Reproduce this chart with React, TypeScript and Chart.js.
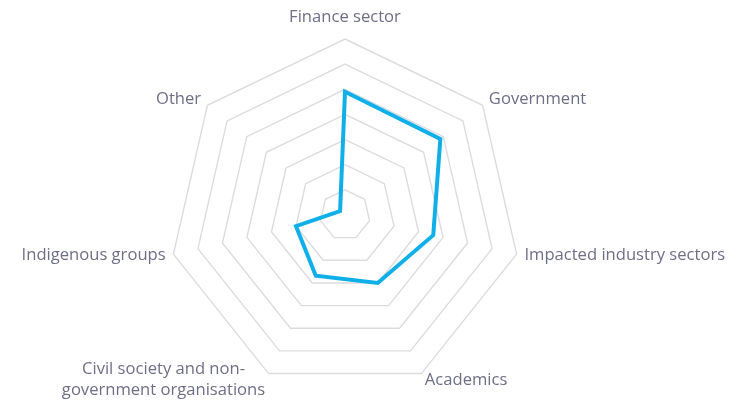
import React, { useEffect, useRef } from "react";
import { Chart, registerables } from "chart.js";

Chart.register(...registerables);

const categories: string[][] = [
  ["Finance sector"],
  ["Government"],
  ["Impacted industry sectors"],
  ["Academics"],
  ["Civil society and non-", "government organisations"],
  ["Indigenous groups"],
  ["Other"],
];
const values = [4.9, 4.85, 3.6, 3.0, 2.68, 2.0, 0.25];
const scaleMax = 7;

const LABEL_FONT = "16.6px 'Open Sans', sans-serif";
const LABEL_COLOR = "#6f6e87";
const LABEL_PAD = 8;
const LINE_H = 21;

const pointLabelPlugin = {
  id: "centeredPointLabels",
  afterDraw(chart: any) {
    const scale = chart.scales.r;
    const ctx = chart.ctx as CanvasRenderingContext2D;
    ctx.save();
    ctx.font = LABEL_FONT;
    ctx.fillStyle = LABEL_COLOR;
    ctx.textBaseline = "middle";
    ctx.textAlign = "center";
    const labels = chart.data.labels as string[][];
    labels.forEach((lines, i) => {
      const pos = scale.getPointPosition(i, scale.drawingArea + LABEL_PAD);
      const a = scale.getIndexAngle(i);
      const s = Math.sin(a);
      const c = Math.cos(a);
      const w = Math.max(...lines.map((l) => ctx.measureText(l).width));
      let left: number;
      if (Math.abs(s) < 0.01) left = pos.x - w / 2;
      else if (s > 0) left = pos.x;
      else left = pos.x - w;
      const blockH = lines.length * LINE_H;
      let centerY: number;
      if (c > 0.99) centerY = pos.y - LINE_H / 2 - 3.5;
      else centerY = pos.y - 1;
      const top = centerY - blockH / 2;
      lines.forEach((l, j) => {
        ctx.fillText(l, left + w / 2, top + LINE_H / 2 + j * LINE_H);
      });
    });
    ctx.restore();
  },
};

export default function App() {
  const ref = useRef<HTMLCanvasElement | null>(null);
  useEffect(() => {
    if (!ref.current) return;
    const chart = new Chart(ref.current, {
      type: "radar",
      data: {
        labels: categories,
        datasets: [
          {
            data: values,
            borderColor: "#0fb0e9",
            borderWidth: 4,
            borderJoinStyle: "miter",
            pointRadius: 0,
            pointHoverRadius: 0,
            fill: false,
            backgroundColor: "transparent",
          },
        ],
      },
      options: {
        animation: false,
        responsive: true,
        maintainAspectRatio: false,
        layout: { padding: { left: 0, right: 53, top: 39, bottom: 9 } },
        plugins: { legend: { display: false }, tooltip: { enabled: false } },
        scales: {
          r: {
            min: 0,
            max: scaleMax,
            ticks: { display: false, stepSize: 1 },
            angleLines: { display: false },
            grid: { color: "#dcdbe0", lineWidth: 1.4 },
            pointLabels: { display: false },
          },
        },
      },
      plugins: [pointLabelPlugin],
    });
    return () => chart.destroy();
  }, []);
  return (
    <div style={{ position: "fixed", left: 0, top: 0, width: "100vw", height: "100vh" }}>
      <canvas ref={ref} />
    </div>
  );
}
